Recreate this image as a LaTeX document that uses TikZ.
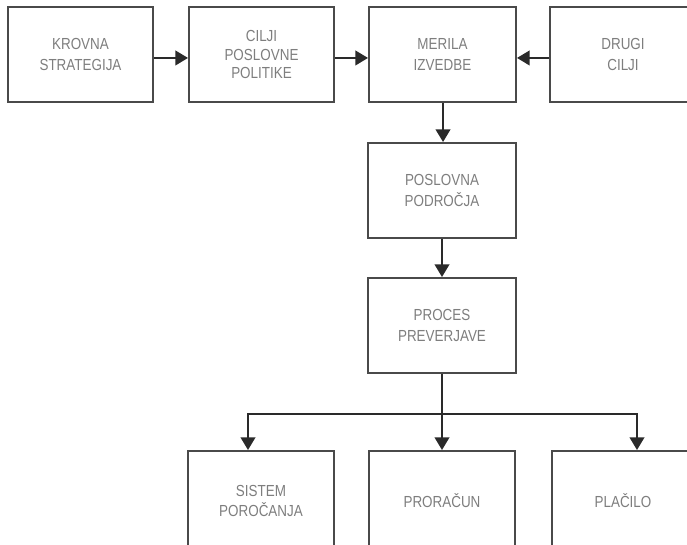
\documentclass[tikz,border=0pt]{standalone}
\usepackage{fontspec}
\setmainfont{Liberation Sans}[FakeStretch=0.84]
\usetikzlibrary{arrows.meta}
\definecolor{framegray}{HTML}{4A4A4A}
\definecolor{labelgray}{HTML}{7E7E7E}
\definecolor{linegray}{HTML}{2A2A2A}
\begin{document}
\begin{tikzpicture}[x=0.75pt,y=-0.75pt,
  box/.style={draw=framegray, line width=1.5pt, inner sep=0pt,
    minimum height=71.25pt, align=center, text=labelgray,
    font=\fontsize{12}{14}\selectfont},
  arr/.style={draw=linegray, line width=1.5pt,
    -{Triangle[length=9.5pt,width=11pt]}},
  link/.style={draw=linegray, line width=1.5pt}]
\fill[white] (0,0) rectangle (687,545);
\useasboundingbox (0,0) rectangle (687,545);
\clip (0,0) rectangle (687,545);
% top row
\node[box, minimum width=108.75pt] (krovna) at (80.5,54.5) {KROVNA\\[1.5pt]STRATEGIJA};
\node[box, minimum width=108.75pt] (cilji) at (261.5,54.5) {CILJI\\POSLOVNE\\POLITIKE};
\node[box, minimum width=110.25pt] (merila) at (442.5,54.5) {MERILA\\[1.5pt]IZVEDBE};
\node[box, minimum width=112.5pt, text width=80pt] (drugi) at (625,54.5) {\hspace*{-3pt}DRUGI\\[1.5pt]\hspace*{-3pt}CILJI};
% middle column
\node[box, minimum width=111pt] (podrocja) at (442,190.5) {POSLOVNA\\[1.5pt]PODROČJA};
\node[box, minimum width=111pt] (proces) at (442,325.5) {PROCES\\[1.5pt]PREVERJAVE};
% bottom row
\node[box, minimum width=109.5pt, minimum height=75pt] (sistem) at (261,501) {SISTEM\\[1.5pt]POROČANJA};
\node[box, minimum width=109.5pt, minimum height=75pt] (proracun) at (442,501) {PRORAČUN};
\node[box, minimum width=127.5pt, minimum height=75pt, text width=120pt] (placilo) at (637,501) {\hspace*{-21pt}PLAČILO};
% connectors
\draw[arr] ([yshift=-2.6pt]krovna.east) -- ([yshift=-2.6pt]cilji.west);
\draw[arr] ([yshift=-2.6pt]cilji.east) -- ([yshift=-2.6pt]merila.west);
\draw[arr] ([yshift=-2.6pt]drugi.west) -- ([yshift=-2.6pt]merila.east);
\draw[arr] ([xshift=0.4pt]merila.south) -- ([xshift=0.4pt]merila.south |- podrocja.north);
\draw[arr] (podrocja.south) -- (proces.north);
\coordinate (split) at (442,414);
\draw[link] (proces.south) -- (split);
\draw[arr] (split) -- (proracun.north);
\draw[arr] (split) -| ([xshift=-9.75pt]sistem.north);
\draw[arr] (split) -| (placilo.north);
\end{tikzpicture}
\end{document}
